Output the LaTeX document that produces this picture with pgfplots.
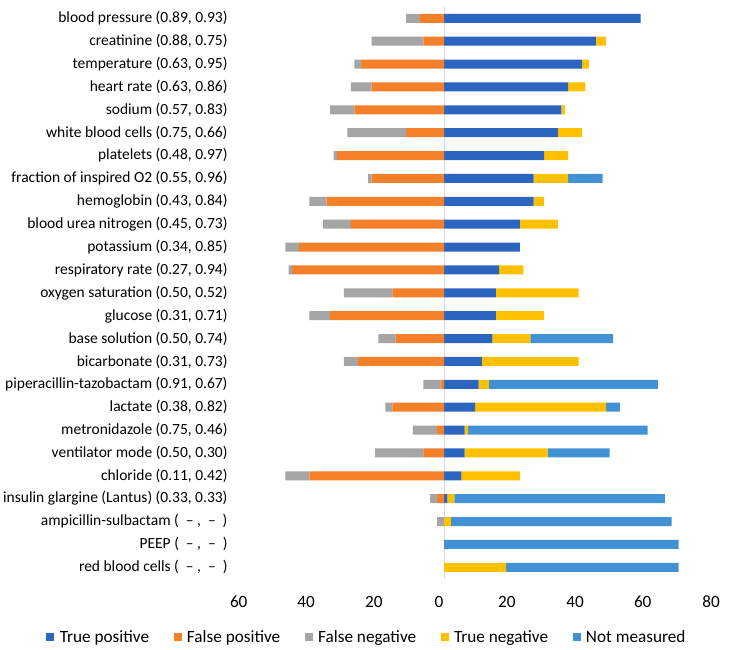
\documentclass[border=0pt]{standalone}
\usepackage{pgfplots}
\pgfplotsset{compat=1.18}
\usepackage{pgfplotstable}
\usepackage{fontspec}
\setmainfont{Carlito}
\definecolor{tpc}{HTML}{2B65BF}
\definecolor{fpc}{HTML}{F5802A}
\definecolor{fnc}{HTML}{A5A5A5}
\definecolor{tnc}{HTML}{FFC000}
\definecolor{nmc}{HTML}{4391D5}
\definecolor{zeroline}{HTML}{D9D9D9}
\newcommand{\lblfont}{\fontsize{15.5}{18}\selectfont}
\newcommand{\tickfont}{\fontsize{17.2}{20}\selectfont}
\pgfplotstableread{
y tp tn nm fp fn
24 57 0 0 -7 -4
23 44 3 0 -6 -15
22 40 2 0 -24 -2
21 36 5 0 -21 -6
20 34 1 0 -26 -7
19 33 7 0 -11 -17
18 29 7 0 -31 -1
17 26 10 10 -21 -1
16 26 3 0 -34 -5
15 22 11 0 -27 -8
14 22 0 0 -42 -4
13 16 7 0 -44 -1
12 15 24 0 -15 -14
11 15 14 0 -33 -6
10 14 11 24 -14 -5
9 11 28 0 -25 -4
8 10 3 49 -1 -5
7 9 38 4 -15 -2
6 6 1 52 -2 -7
5 6 24 18 -6 -14
4 5 17 0 -39 -7
3 1 2 61 -2 -2
2 0 2 64 0 -2
1 0 0 68 0 0
0 0 18 50 0 0
}\data
\pgfplotsset{common/.style={
  width=483pt, height=571.8pt, scale only axis,
  at={(0,0)}, anchor=south west,
  xmin=-60, xmax=80, ymin=-0.5, ymax=24.5,
  xbar stacked, bar width=9pt,
}}
\begin{document}
\begin{tikzpicture}
\useasboundingbox (-237pt,-70.3pt) rectangle (496pt,578.7pt);
\begin{axis}[common,
  axis line style={draw=none}, major tick length=0pt,
  xtick={-59.5,-40,-20.3,-1.45,18.2,38,57.6,77.4},
  xticklabels={60,40,20,0,20,40,60,80},
  ytick={0,...,24},
  yticklabels={
    {red blood cells (\ \ –\ ,\ \ –\ \ )},
    {PEEP (\ \ –\ ,\ \ –\ \ )},
    {ampicillin-sulbactam (\ \ –\ ,\ \ –\ \ )},
    {insulin glargine (Lantus) (0.33, 0.33)},
    {chloride (0.11, 0.42)},
    {ventilator mode (0.50, 0.30)},
    {metronidazole (0.75, 0.46)},
    {lactate (0.38, 0.82)},
    {piperacillin-tazobactam (0.91, 0.67)},
    {bicarbonate (0.31, 0.73)},
    {base solution (0.50, 0.74)},
    {glucose (0.31, 0.71)},
    {oxygen saturation (0.50, 0.52)},
    {respiratory rate (0.27, 0.94)},
    {potassium (0.34, 0.85)},
    {blood urea nitrogen (0.45, 0.73)},
    {hemoglobin (0.43, 0.84)},
    {fraction of inspired O2 (0.55, 0.96)},
    {platelets (0.48, 0.97)},
    {white blood cells (0.75, 0.66)},
    {sodium (0.57, 0.83)},
    {heart rate (0.63, 0.86)},
    {temperature (0.63, 0.95)},
    {creatinine (0.88, 0.75)},
    {blood pressure (0.89, 0.93)}},
  extra x ticks={0}, extra x tick labels={},
  extra x tick style={grid=major, major grid style={draw=zeroline, line width=0.8pt}},
  xticklabel style={font=\tickfont, text=black, anchor=north, inner sep=0pt, yshift=-17.3pt},
  yticklabel style={font=\lblfont, text=black, anchor=east, inner sep=0pt, xshift=-9.3pt},
]
\addplot[fill=tpc, draw=none] table[x=tp, y=y] {\data};
\addplot[fill=tnc, draw=none] table[x=tn, y=y] {\data};
\addplot[fill=nmc, draw=none] table[x=nm, y=y] {\data};
\end{axis}
\begin{axis}[common, hide axis,
  legend image code/.code={\fill[#1] (0pt,-4pt) rectangle (8pt,4pt);},
  legend style={at={(0.2669,-0.102)}, anchor=center, draw=none, fill=none,
    legend columns=-1, font=\tickfont, text=black,
    nodes={inner sep=0pt},
    /tikz/every odd column/.append style={column sep=5.4pt},
    /tikz/every even column/.append style={column sep=24.5pt}},
]
\addlegendimage{fill=tpc, draw=none}
\addlegendentry{True positive}
\addplot[fill=fpc, draw=none] table[x=fp, y=y] {\data};
\addlegendentry{False positive}
\addplot[fill=fnc, draw=none] table[x=fn, y=y] {\data};
\addlegendentry{False negative}
\addlegendimage{fill=tnc, draw=none}
\addlegendentry{True negative}
\addlegendimage{fill=nmc, draw=none}
\addlegendentry{Not measured}
\end{axis}
\end{tikzpicture}
\end{document}
